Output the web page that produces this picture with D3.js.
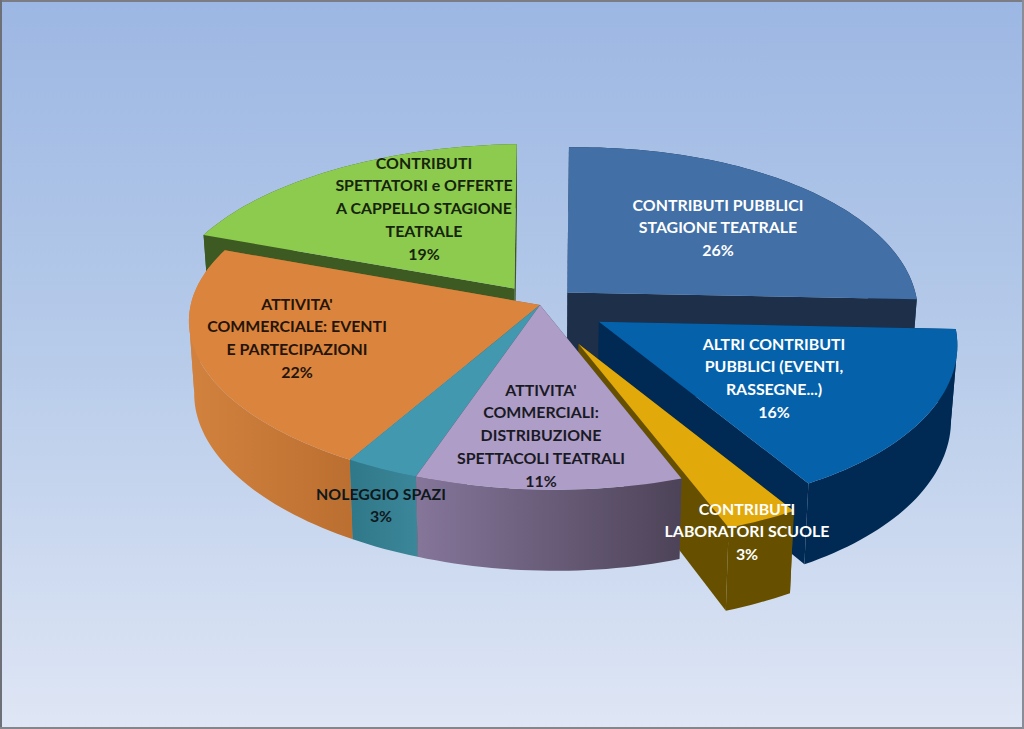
<!DOCTYPE html>
<html><head><meta charset="utf-8">
<script src="https://cdn.jsdelivr.net/npm/d3@7"></script>
<style>html,body{margin:0;padding:0;background:#fff}svg{display:block}</style>
</head><body><svg id="c" width="1024" height="729"></svg>
<script>
const categories = ["CONTRIBUTI PUBBLICI\nSTAGIONE TEATRALE","ALTRI CONTRIBUTI\nPUBBLICI (EVENTI,\nRASSEGNE...)","CONTRIBUTI\nLABORATORI SCUOLE","ATTIVITA'\nCOMMERCIALI:\nDISTRIBUZIONE\nSPETTACOLI TEATRALI","NOLEGGIO SPAZI","ATTIVITA'\nCOMMERCIALE: EVENTI\nE PARTECIPAZIONI","CONTRIBUTI\nSPETTATORI e OFFERTE\nA CAPPELLO STAGIONE\nTEATRALE"];
const values = [26,16,3,11,3,22,19];
const explode = [0.11,0.195,0.255,0,0,0,0.125];
const topColors = ["#416fa6","#0562aa","#e2a90a","#ae9dc7","#4298af","#db843d","#8ccb4e"];
const cutColors = ["#1d2f49","#002a53","#665000","#4f4559","#2f7586","#a8662e","#3d5a22"];
const wallStops = [["#1d2f49","#1d2f49"],["#002a53","#002a53"],["#665000","#665000"],["#85769a","#4d4358"],["#2f7889","#3b8699"],["#d2823e","#bb6f30"],["#3d5a22","#3d5a22"]];
const textColors = ["#ffffff","#ffffff","#ffffff","#1a1a24","#10181c","#24140a","#16240c"];
const labelCenters = [[718,205],[774,344],[747,509],[541,390],[381,494],[297,304],[424,163]];
const drawOrder = [6,0,1,2,5,4,3];

const W=1024,H=729,cx=540,cy=305,rx=350,ry=164,persp=0.112,skew=11,tilt=3.5,depth=72,shrink=0.985,lineStep=22.7;
const svg=d3.select("#c");
const defs=svg.append("defs");
const bg=defs.append("linearGradient").attr("id","bg").attr("x1",0).attr("y1",0).attr("x2",0).attr("y2",1);
bg.append("stop").attr("offset",0).attr("stop-color","#9cb7e3");
bg.append("stop").attr("offset",0.5).attr("stop-color","#b8ccea");
bg.append("stop").attr("offset",1).attr("stop-color","#dfe6f5");
svg.append("rect").attr("width",W).attr("height",H).attr("fill","url(#bg)");
svg.append("rect").attr("x",0).attr("y",0).attr("width",W).attr("height",2).attr("fill","#7c7c84");
svg.append("rect").attr("x",0).attr("y",0).attr("width",2).attr("height",H).attr("fill","#6e7078");
svg.append("rect").attr("x",0).attr("y",H-2).attr("width",W).attr("height",2).attr("fill","#85858c");
svg.append("rect").attr("x",W-2).attr("y",0).attr("width",2).attr("height",H).attr("fill","#8a8c98");

function proj(X,Y,ox){
  const s=1/(1-persp*Y);
  const XR=X-ox;
  return {x:cx+rx*XR*s+rx*ox+skew*(Y+Y*Y),y:cy+ry*Y*s-tilt*X,s};
}
function lower(p){ return [cx+(p.x-cx)*shrink,p.y+depth*p.s]; }
const line=d3.line();
const pie=d3.pie().sort(null).startAngle(0).endAngle(2*Math.PI);
const arcs=pie(values);

drawOrder.forEach(i=>{
  const a=arcs[i],mid=(a.startAngle+a.endAngle)/2;
  const ox=explode[i]*Math.sin(mid),oy=-explode[i]*Math.cos(mid);
  const apex=proj(ox,oy,ox);
  const n=Math.max(8,Math.ceil((a.endAngle-a.startAngle)*40));
  const rim=d3.range(n+1).map(k=>{
    const t=a.startAngle+(a.endAngle-a.startAngle)*k/n;
    return proj(ox+Math.sin(t),oy-Math.cos(t),ox);
  });
  const g=svg.append("g");
  const face=(P,Q)=>line([[P.x,P.y],[Q.x,Q.y],lower(Q),lower(P)])+"Z";
  g.append("path").attr("d",face(apex,rim[0])).attr("fill",cutColors[i]);
  g.append("path").attr("d",face(apex,rim[n])).attr("fill",cutColors[i]);
  const x0=d3.min(rim,p=>p.x),x1=d3.max(rim,p=>p.x);
  const gid="w"+i;
  const lg=defs.append("linearGradient").attr("id",gid).attr("gradientUnits","userSpaceOnUse")
    .attr("x1",x0).attr("y1",0).attr("x2",x1).attr("y2",0);
  lg.append("stop").attr("offset",0).attr("stop-color",wallStops[i][0]);
  lg.append("stop").attr("offset",1).attr("stop-color",wallStops[i][1]);
  // Split the wall where the rim folds at its side extremes, so the parts do not cancel out.
  const splits=Array.from(new Set([0,d3.leastIndex(rim,(p,q)=>p.x-q.x),d3.greatestIndex(rim,p=>p.x),n])).sort(d3.ascending);
  d3.pairs(splits).forEach(([u,v])=>{
    const part=rim.slice(u,v+1);
    const wall=part.map(p=>[p.x,p.y]).concat(part.slice().reverse().map(lower));
    g.append("path").attr("d",line(wall)+"Z").attr("fill","url(#"+gid+")");
  });
  const top=[[apex.x,apex.y]].concat(rim.map(p=>[p.x,p.y]));
  g.append("path").attr("d",line(top)+"Z").attr("fill",topColors[i]);
});

const labels=svg.append("g").attr("font-family","Lato, 'Open Sans', sans-serif").attr("font-weight",700).attr("font-size",15.9).attr("text-anchor","middle");
categories.forEach((c,i)=>{
  const rows=c.split("\n").concat([values[i]+"%"]);
  const [lx,ly]=labelCenters[i];
  rows.forEach((r,k)=>{
    labels.append("text").attr("x",lx).attr("y",ly+k*lineStep).attr("dy","0.36em")
      .attr("fill",textColors[i]).text(r);
  });
});
</script></body></html>
